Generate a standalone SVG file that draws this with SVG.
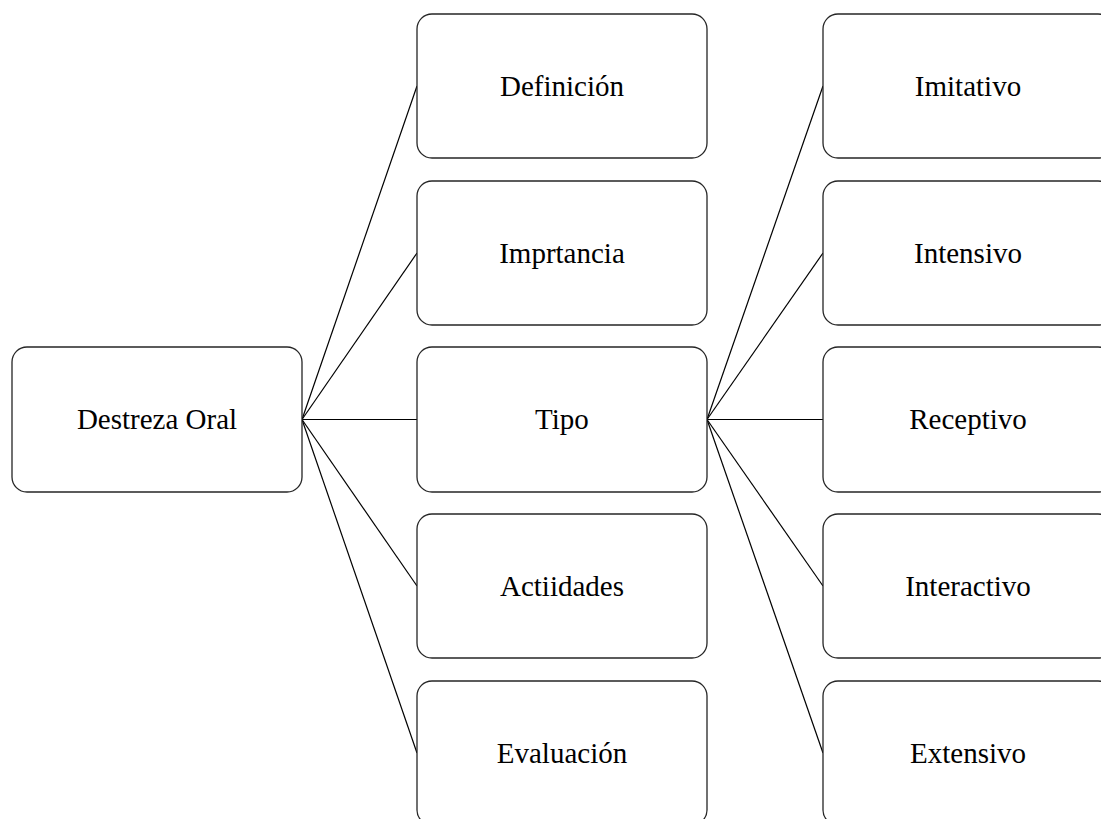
<svg xmlns="http://www.w3.org/2000/svg" width="1101" height="819" viewBox="0 0 1101 819">
<style>
.box{fill:#fff;stroke:#262626;stroke-width:1.3}
.lbl{font-family:"Liberation Serif","Times New Roman",serif;font-size:29px;fill:#000;text-anchor:middle}
.conn line{stroke:#000;stroke-width:1.2}
</style>
<rect width="1101" height="819" fill="#fff"/>
<g id="connectors" class="conn">
<line x1="302" y1="419.5" x2="417" y2="86"/>
<line x1="302" y1="419.5" x2="417" y2="253"/>
<line x1="302" y1="419.5" x2="417" y2="419.5"/>
<line x1="302" y1="419.5" x2="417" y2="586"/>
<line x1="302" y1="419.5" x2="417" y2="753"/>
<line x1="707" y1="419.5" x2="823" y2="86"/>
<line x1="707" y1="419.5" x2="823" y2="253"/>
<line x1="707" y1="419.5" x2="823" y2="419.5"/>
<line x1="707" y1="419.5" x2="823" y2="586"/>
<line x1="707" y1="419.5" x2="823" y2="753"/>
</g>
<g id="root"><rect class="box" x="12" y="347" width="290" height="145" rx="15"/><text class="lbl" x="157" y="429">Destreza Oral</text></g>
<g id="definicion"><rect class="box" x="417" y="14" width="290" height="144" rx="15"/><text class="lbl" x="562" y="96">Definición</text></g>
<g id="importancia"><rect class="box" x="417" y="181" width="290" height="144" rx="15"/><text class="lbl" x="562" y="263">Imprtancia</text></g>
<g id="tipo"><rect class="box" x="417" y="347" width="290" height="145" rx="15"/><text class="lbl" x="562" y="429">Tipo</text></g>
<g id="actividades"><rect class="box" x="417" y="514" width="290" height="144" rx="15"/><text class="lbl" x="562" y="596">Actiidades</text></g>
<g id="evaluacion"><rect class="box" x="417" y="681" width="290" height="144" rx="15"/><text class="lbl" x="562" y="763">Evaluación</text></g>
<g id="imitativo"><rect class="box" x="823" y="14" width="290" height="144" rx="15"/><text class="lbl" x="968" y="96">Imitativo</text></g>
<g id="intensivo"><rect class="box" x="823" y="181" width="290" height="144" rx="15"/><text class="lbl" x="968" y="263">Intensivo</text></g>
<g id="receptivo"><rect class="box" x="823" y="347" width="290" height="145" rx="15"/><text class="lbl" x="968" y="429">Receptivo</text></g>
<g id="interactivo"><rect class="box" x="823" y="514" width="290" height="144" rx="15"/><text class="lbl" x="968" y="596">Interactivo</text></g>
<g id="extensivo"><rect class="box" x="823" y="681" width="290" height="144" rx="15"/><text class="lbl" x="968" y="763">Extensivo</text></g>
</svg>
